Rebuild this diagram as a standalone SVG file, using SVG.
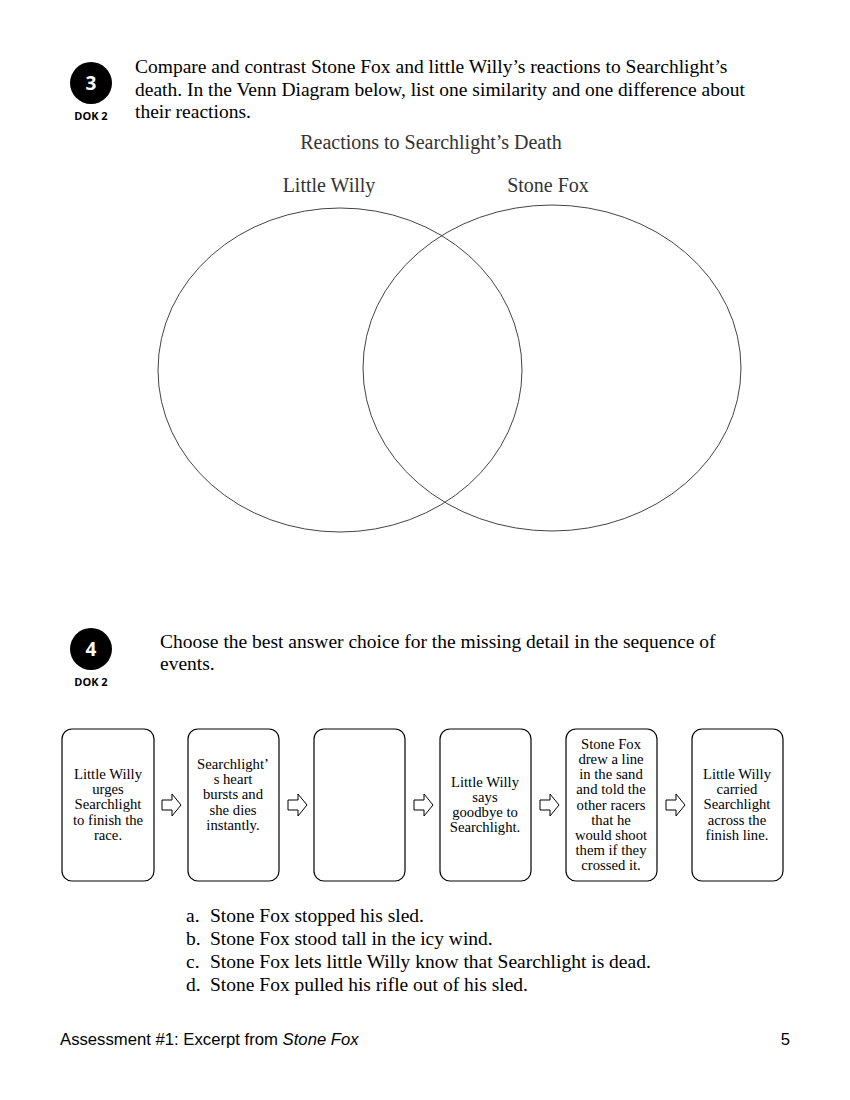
<svg xmlns="http://www.w3.org/2000/svg" width="850" height="1100" viewBox="0 0 850 1100">
<defs>
<style>
.t{font-family:"Liberation Serif",serif;fill:#000}
.q{font-size:19.5px}
.h{font-size:20px;fill:#333}
.b{font-size:14.7px;text-anchor:middle}
.o{font-size:19.5px}
.badge{fill:#000}
.bn{font-family:"Open Sans","DejaVu Sans",sans-serif;font-size:19px;font-weight:bold;fill:#fff;text-anchor:middle}
.dok{font-family:"Open Sans","DejaVu Sans",sans-serif;font-size:11px;font-weight:bold;fill:#000;text-anchor:middle}
.box{fill:#fff;stroke:#000;stroke-width:1.2}
.arr{fill:#fff;stroke:#000;stroke-width:1}
.f{font-family:"Liberation Sans",sans-serif;font-size:16.7px;fill:#000}
</style>
<path id="ar" d="M0,-5 L10,-5 L10,-11 L19,0 L10,11 L10,5 L0,5 Z"/>
</defs>
<rect width="850" height="1100" fill="#fff"/>

<g id="q3">
<circle class="badge" cx="91" cy="83" r="21"/>
<text class="bn" x="91" y="90">3</text>
<text class="dok" x="91" y="120">DOK 2</text>
<text class="t q" x="135" y="73">Compare and contrast Stone Fox and little Willy’s reactions to Searchlight’s</text>
<text class="t q" x="135" y="96">death. In the Venn Diagram below, list one similarity and one difference about</text>
<text class="t q" x="135" y="118">their reactions.</text>
</g>

<g id="venn">
<text class="t h" x="431" y="149" text-anchor="middle">Reactions to Searchlight’s Death</text>
<text class="t h" x="329" y="192" text-anchor="middle">Little Willy</text>
<text class="t h" x="548" y="192" text-anchor="middle">Stone Fox</text>
<ellipse cx="340" cy="370" rx="182" ry="162" fill="none" stroke="#444" stroke-width="1"/>
<ellipse cx="552" cy="368" rx="189" ry="163" fill="none" stroke="#444" stroke-width="1"/>
</g>

<g id="q4">
<circle class="badge" cx="91" cy="649" r="21"/>
<text class="bn" x="91" y="656">4</text>
<text class="dok" x="91" y="686">DOK 2</text>
<text class="t q" x="160" y="648">Choose the best answer choice for the missing detail in the sequence of</text>
<text class="t q" x="160" y="670">events.</text>
</g>

<g id="box1">
<rect class="box" x="62" y="729" width="92" height="152" rx="10"/>
<text class="t b" x="108" y="779">Little Willy</text>
<text class="t b" x="108" y="794">urges</text>
<text class="t b" x="108" y="809">Searchlight</text>
<text class="t b" x="108" y="825">to finish the</text>
<text class="t b" x="108" y="840">race.</text>
</g>
<g id="box2">
<rect class="box" x="188" y="729" width="91" height="152" rx="10"/>
<text class="t b" x="233" y="769">Searchlight’</text>
<text class="t b" x="233" y="784">s heart</text>
<text class="t b" x="233" y="799">bursts and</text>
<text class="t b" x="233" y="815">she dies</text>
<text class="t b" x="233" y="830">instantly.</text>
</g>
<g id="box3">
<rect class="box" x="314" y="729" width="91" height="152" rx="10"/>
</g>
<g id="box4">
<rect class="box" x="440" y="729" width="91" height="152" rx="10"/>
<text class="t b" x="485" y="787">Little Willy</text>
<text class="t b" x="485" y="802">says</text>
<text class="t b" x="485" y="817">goodbye to</text>
<text class="t b" x="485" y="832">Searchlight.</text>
</g>
<g id="box5">
<rect class="box" x="566" y="729" width="91" height="152" rx="10"/>
<text class="t b" x="611" y="749">Stone Fox</text>
<text class="t b" x="611" y="764">drew a line</text>
<text class="t b" x="611" y="779">in the sand</text>
<text class="t b" x="611" y="794">and told the</text>
<text class="t b" x="611" y="810">other racers</text>
<text class="t b" x="611" y="825">that he</text>
<text class="t b" x="611" y="840">would shoot</text>
<text class="t b" x="611" y="855">them if they</text>
<text class="t b" x="611" y="870">crossed it.</text>
</g>
<g id="box6">
<rect class="box" x="692" y="729" width="91" height="152" rx="10"/>
<text class="t b" x="737" y="779">Little Willy</text>
<text class="t b" x="737" y="794">carried</text>
<text class="t b" x="737" y="809">Searchlight</text>
<text class="t b" x="737" y="825">across the</text>
<text class="t b" x="737" y="840">finish line.</text>
</g>

<g id="connectors">
<use href="#ar" class="arr" x="162" y="805"/>
<use href="#ar" class="arr" x="288" y="805"/>
<use href="#ar" class="arr" x="414" y="805"/>
<use href="#ar" class="arr" x="540" y="805"/>
<use href="#ar" class="arr" x="666" y="805"/>
</g>

<g id="options">
<text class="t o" x="186" y="922">a.</text><text class="t o" x="210" y="922">Stone Fox stopped his sled.</text>
<text class="t o" x="186" y="945">b.</text><text class="t o" x="210" y="945">Stone Fox stood tall in the icy wind.</text>
<text class="t o" x="186" y="968">c.</text><text class="t o" x="210" y="968">Stone Fox lets little Willy know that Searchlight is dead.</text>
<text class="t o" x="186" y="991">d.</text><text class="t o" x="210" y="991">Stone Fox pulled his rifle out of his sled.</text>
</g>

<g id="footer">
<text class="f" x="60" y="1045">Assessment #1: Excerpt from <tspan font-style="italic">Stone Fox</tspan></text>
<text class="f" x="790" y="1045" text-anchor="end">5</text>
</g>
</svg>
